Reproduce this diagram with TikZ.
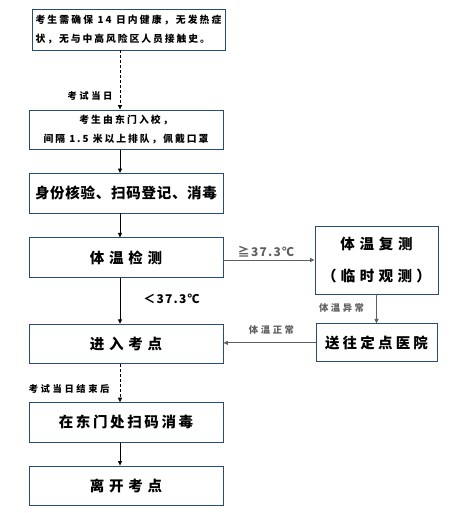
\documentclass[tikz,border=0pt]{standalone}
\usepackage{fontspec}
\newfontfamily\cjk{Noto Sans CJK SC}
\usetikzlibrary{arrows.meta,positioning}
\definecolor{boxline}{RGB}{40,76,118}
\definecolor{sidegray}{RGB}{95,95,95}
\newcommand\lsp[1]{\addfontfeatures{LetterSpace=#1}}

\begin{document}
\begin{tikzpicture}[x=1pt, y=-1pt,
  box/.style={draw=boxline, line width=0.9pt, minimum width=194pt,
              minimum height=39.5pt, inner sep=2pt, align=center,
              font=\cjk\bfseries\fontsize{14.5}{32}\selectfont},
  smallbox/.style={box, font=\cjk\bfseries\fontsize{9.8}{19}\selectfont},
  sidebox/.style={box, minimum width=123pt},
  note/.style={inner sep=1pt, font=\cjk\bfseries\fontsize{9.3}{11}\selectfont\lsp{28}},
  temp/.style={inner sep=1pt, font=\cjk\bfseries\fontsize{12}{14}\selectfont\lsp{10}},
  arr/.style={-{Triangle[length=4.5pt,width=4pt]}, line width=0.9pt},
  grayarr/.style={arr, sidegray},
  dasharr/.style={arr, dash pattern=on 3pt off 2pt}
]
\useasboundingbox (0,0) rectangle (457,513);

% Notice before exam day
\node[smallbox, minimum width=193pt, minimum height=41pt, align=left]
     (notice) at (128.5,29.5)
     {\lsp{22}考生需确保 14 日内健康，无发热症\\\lsp{20}状，无与中高风险区人员接触史。};

% Main column
\node[smallbox] (entry) at (126,129.8)
     {\lsp{22}考生由东门入校，\\\lsp{20}间隔 1.5 米以上排队，佩戴口罩};
\node[box, below=23pt of entry] (check) {\lsp{5}身份核验、扫码登记、消毒};
\node[box, below=24pt of check] (measure) {\lsp{33}体温检测};
\node[box, below=46pt of measure] (reach) {\lsp{33}进入考点};
\node[box, below=38pt of reach] (exitscan) {\lsp{18}在东门处扫码消毒};
\node[box, below=23pt of exitscan] (leave) {\lsp{33}离开考点};

% Right column
\node[sidebox, minimum height=68pt] (recheck) at (376.5,260)
     {\lsp{33}体温复测\\\lsp{30}（临时观测）};
\node[sidebox, minimum height=38pt, minimum width=121pt,
      below=29pt of recheck] (hospital) {\lsp{22}送往定点医院};

% Connectors
\draw[dasharr] ([xshift=-6pt]entry.north |- notice.south) --
      node[note, pos=0.77, left=6pt] {考试当日} ([xshift=-6pt]entry.north);
\draw[arr] ([xshift=-6pt]entry.south) -- ([xshift=-6pt]check.north);
\draw[arr] ([xshift=-6pt]check.south) -- ([xshift=-6pt]measure.north);
\draw[grayarr] (measure.east |- recheck.west) --
      node[temp, midway, above=1pt, xshift=-3pt] {≧37.3℃} (recheck.west);
\draw[arr] ([xshift=-6pt]measure.south) --
      node[temp, pos=0.45, right=22pt] {＜37.3℃} ([xshift=-6pt]reach.north);
\draw[grayarr] (recheck.south) --
      node[note, pos=0.48, left=11pt] {体温异常} (hospital.north);
\draw[grayarr] (hospital.west) --
      node[note, midway, above=7pt, xshift=2pt] {体温正常} (reach.east |- hospital.west);
\draw[dasharr] ([xshift=-6pt]reach.south) --
      node[note, pos=0.66, left=9pt] {考试当日结束后} ([xshift=-6pt]exitscan.north);
\draw[arr] ([xshift=-6pt]exitscan.south) -- ([xshift=-6pt]leave.north);

\end{tikzpicture}
\end{document}
